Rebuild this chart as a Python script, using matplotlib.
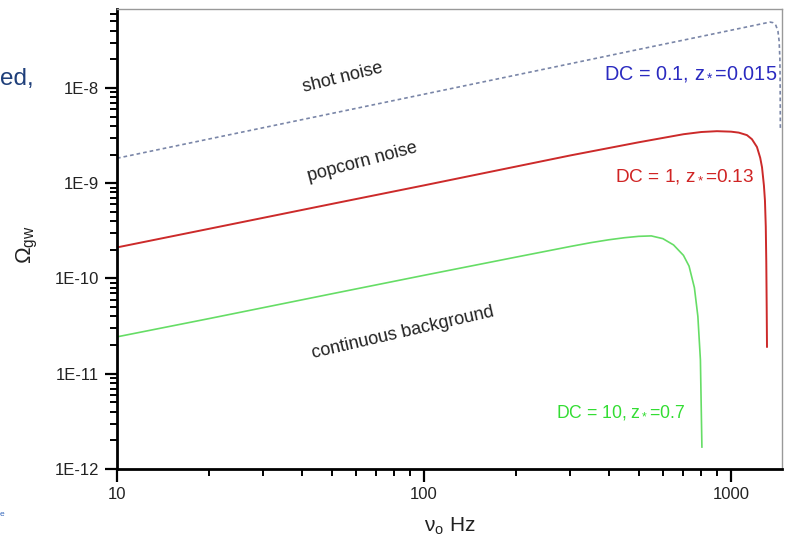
import matplotlib
matplotlib.use("Agg")
import matplotlib.pyplot as plt
from matplotlib.ticker import FixedLocator, FixedFormatter, LogLocator, NullFormatter

plt.rcParams['font.family'] = ['Liberation Sans', 'DejaVu Sans']
plt.rcParams['mathtext.fontset'] = 'custom'
plt.rcParams['mathtext.rm'] = 'Liberation Sans'
plt.rcParams['mathtext.it'] = 'Liberation Sans:italic'

# ---- data ----
shot_freq = [10, 20, 50, 100, 200, 500, 1000, 1300, 1340, 1370, 1400, 1422, 1435, 1443, 1446, 1448]
shot_omega = [1.83e-9, 2.92e-9, 5.40e-9, 8.60e-9, 1.37e-8, 2.54e-8, 4.04e-8, 4.82e-8, 4.92e-8,
              4.85e-8, 4.55e-8, 3.95e-8, 3.1e-8, 2.0e-8, 1.0e-8, 3.6e-9]

pop_freq = [10, 20, 50, 100, 200, 300, 500, 700, 800, 900, 1000, 1060, 1127, 1170, 1215,
            1245, 1262, 1280, 1290, 1298, 1303, 1307, 1310]
pop_omega = [2.12e-10, 3.33e-10, 6.06e-10, 9.5e-10, 1.50e-9, 1.96e-9, 2.69e-9, 3.27e-9,
             3.45e-9, 3.52e-9, 3.48e-9, 3.4e-9, 3.2e-9, 2.9e-9, 2.4e-9, 1.85e-9, 1.47e-9,
             9.5e-10, 6.6e-10, 3.5e-10, 1.5e-10, 5e-11, 1.92e-11]

cont_freq = [10, 20, 50, 100, 200, 300, 350, 400, 450, 500, 550, 600, 650, 700, 730, 760,
             780, 795, 804]
cont_omega = [2.44e-11, 3.8e-11, 6.9e-11, 1.08e-10, 1.68e-10, 2.17e-10, 2.38e-10, 2.55e-10,
              2.68e-10, 2.77e-10, 2.8e-10, 2.62e-10, 2.25e-10, 1.75e-10, 1.35e-10, 8e-11,
              4e-11, 1.4e-11, 1.7e-12]

y_ticks = [1e-12, 1e-11, 1e-10, 1e-9, 1e-8]
y_labels = ["1E-12", "1E-11", "1E-10", "1E-9", "1E-8"]
x_ticks = [10, 100, 1000]
x_labels = ["10", "100", "1000"]

W, H = 787, 540
fig = plt.figure(figsize=(W / 100, H / 100), dpi=100)
L, R, T, B = 117, 782, 9, 469
ax = fig.add_axes([L / W, 1 - B / H, (R - L) / W, (B - T) / H])

ax.plot(shot_freq, shot_omega, color='#7a86a8', lw=1.2, ls=(0, (2.2, 1.8)))
ax.plot(pop_freq, pop_omega, color='#cc2a2a', lw=1.4)
ax.plot(cont_freq, cont_omega, color='#66dd66', lw=1.2)

ax.set_xscale('log')
ax.set_yscale('log')
ax.set_xlim(10, 1466)
ax.set_ylim(1e-12, 6.75e-8)

ax.yaxis.set_major_locator(FixedLocator(y_ticks))
ax.yaxis.set_major_formatter(FixedFormatter(y_labels))
ax.xaxis.set_major_locator(FixedLocator(x_ticks))
ax.xaxis.set_major_formatter(FixedFormatter(x_labels))
ax.xaxis.set_minor_locator(LogLocator(base=10, subs=range(2, 10), numticks=20))
ax.yaxis.set_minor_locator(LogLocator(base=10, subs=range(2, 10), numticks=20))
ax.xaxis.set_minor_formatter(NullFormatter())
ax.yaxis.set_minor_formatter(NullFormatter())

ax.tick_params(which='major', direction='out', length=9, width=1.6, labelsize=12,
               labelcolor='#222222', pad=4)
ax.tick_params(which='minor', direction='out', length=5, width=1.4)
for s in ['left', 'bottom']:
    ax.spines[s].set_linewidth(2)
    ax.spines[s].set_color('black')
for s in ['top', 'right']:
    ax.spines[s].set_linewidth(1)
    ax.spines[s].set_color('#999999')

def px(x, y):
    return x / W, 1 - y / H

fs = 13
fig.text(*px(343, 78), "shot noise", rotation=14, ha='center', va='center', fontsize=fs, color='#222222')
fig.text(*px(362, 162), "popcorn noise", rotation=15, ha='center', va='center', fontsize=fs, color='#222222')
fig.text(*px(403, 333), "continuous background", rotation=13, ha='center', va='center', fontsize=fs, color='#222222')

fig.text(*px(777, 74), r"DC = 0.1, z$_*$=0.015", ha='right', va='center', fontsize=14.3, color='#2a2ac0')
fig.text(*px(754, 176), r"DC = 1, z$_*$=0.13", ha='right', va='center', fontsize=13.7, color='#d02424')
fig.text(*px(685, 413), r"DC = 10, z$_*$=0.7", ha='right', va='center', fontsize=12.7, color='#33dd33')

fig.text(*px(27, 245), r"$\Omega_{\mathrm{gw}}$", rotation=90, ha='center', va='center', fontsize=16, color='#222222')
fig.text(*px(450, 526), r"ν$_{\mathrm{o}}$ Hz", ha='center', va='center', fontsize=15, color='#222222')

fig.text(*px(0, 79), "ed,", ha='left', va='center', fontsize=17.5, color='#1f3f7a')
fig.text(*px(0, 515), "e", ha='left', va='center', fontsize=6, color='#3366bb')

fig.savefig("out.png", dpi=100)
